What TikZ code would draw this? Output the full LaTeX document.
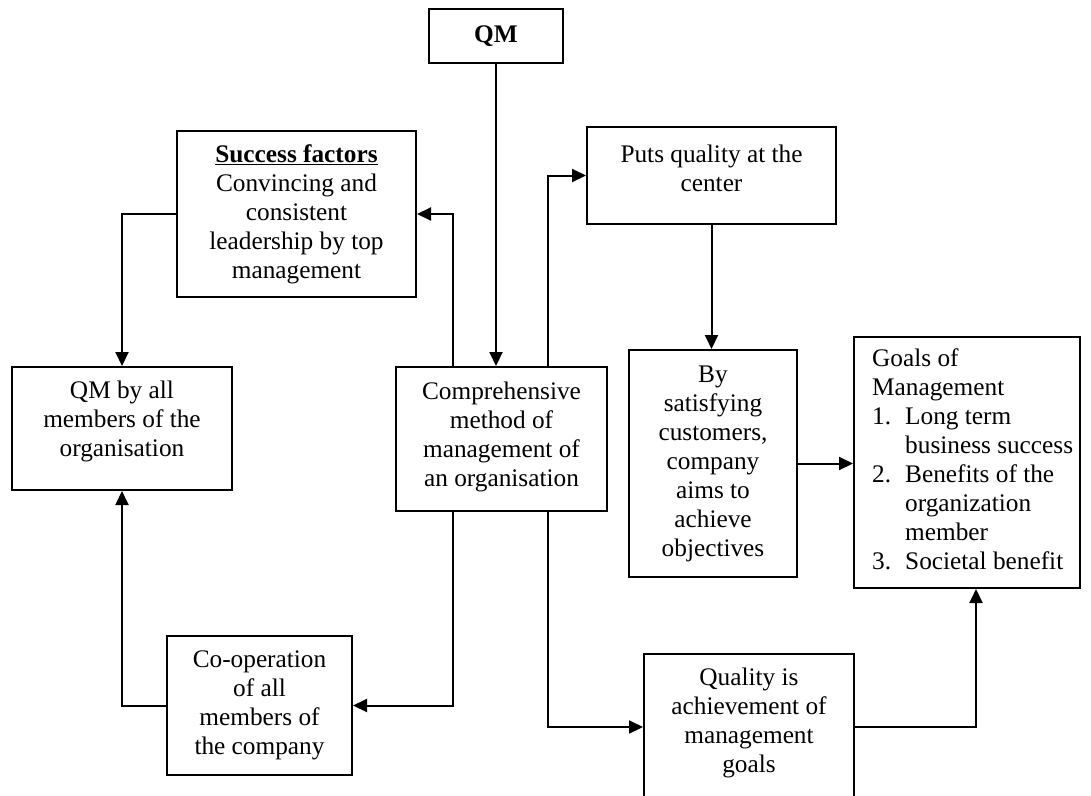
\documentclass[tikz,border=0pt]{standalone}
\usepackage{fontspec}
\setmainfont{Liberation Serif}
\usetikzlibrary{arrows.meta,calc}
\begin{document}
\begin{tikzpicture}[x=1pt,y=-1pt,
  box/.style={draw, line width=2pt, rectangle, inner sep=0pt},
  txt/.style={font=\fontsize{25.3}{29}\selectfont, align=center, inner sep=0pt},
  arr/.style={line width=2pt, -{Triangle[length=14pt,width=13pt]}},
  ln/.style={line width=2pt}]
\useasboundingbox (0,0) rectangle (1091,795);
\fill[white] (0,0) rectangle (1091,795);
\clip (0,0) rectangle (1091,795);

% boxes
\node[box,minimum width=134pt,minimum height=54pt] (qm) at (496,36) {};
\node[txt] (qmt) at (qm.center) {\textbf{QM}};

\node[box,minimum width=239pt,minimum height=166pt] (succ) at (296.5,214) {};
\node[txt] (succt) at (succ.center) {\underline{\textbf{Success factors}}\\Convincing and\\consistent\\leadership by top\\management};

\node[box,minimum width=249pt,minimum height=97pt] (puts) at (711.5,175.5) {};
\node[txt] (putst) at ([yshift=7pt]puts.center) {Puts quality at the\\center};

\node[box,minimum width=220pt,minimum height=123pt] (qmall) at (122,428.5) {};
\node[txt] (qmallt) at ([yshift=7pt]qmall.center) {QM by all\\members of the\\organisation};

\node[box,minimum width=211pt,minimum height=144pt] (comp) at (501.5,439) {};
\node[txt] (compt) at ([yshift=2pt]comp.center) {Comprehensive\\method of\\management of\\an organisation};

\node[box,minimum width=168pt,minimum height=227pt] (by) at (713,463.5) {};
\node[txt] (byt) at (by.center) {By\\satisfying\\customers,\\company\\aims to\\achieve\\objectives};

\node[box,minimum width=226pt,minimum height=251pt] (goals) at (967,462.5) {};
\node[txt,anchor=west,align=left] (goalst) at ([xshift=19pt]goals.west) {%
\begin{tabular}{@{}l@{}l@{}}
\multicolumn{2}{@{}l@{}}{Goals of}\\
\multicolumn{2}{@{}l@{}}{Management}\\
\makebox[33pt][l]{1.} & Long term\\
 & business success\\
\makebox[33pt][l]{2.} & Benefits of the\\
 & organization\\
 & member\\
\makebox[33pt][l]{3.} & Societal benefit
\end{tabular}};

\node[box,minimum width=185pt,minimum height=139pt] (coop) at (259.5,705.5) {};
\node[txt] (coopt) at (coop.center) {Co-operation\\of all\\members of\\the company};

\node[box,minimum width=210pt,minimum height=146pt] (qual) at (749,727) {};
\node[txt] (qualt) at ([yshift=4pt]qual.center) {Quality is\\achievement of\\management\\goals};

% connectors
\draw[arr] (qm.south) -- (qm.south |- comp.north);
\draw[arr] ([xshift=-48.5pt]comp.north) |- (succ.east);
\draw[arr] ([xshift=46.5pt]comp.north) |- (puts.west);
\draw[arr] (succ.west) -| (qmall.north);
\draw[arr] (puts.south) -- (puts.south |- by.north);
\draw[arr] (by.east) -- (by.east -| goals.west);
\draw[arr] ([xshift=-48.5pt]comp.south) |- (coop.east);
\draw[arr] (coop.west) -| (qmall.south);
\draw[arr] ([xshift=46.5pt]comp.south) |- (qual.west);
\draw[arr] (qual.east) -| ([xshift=9pt]goals.south);
\end{tikzpicture}
\end{document}
